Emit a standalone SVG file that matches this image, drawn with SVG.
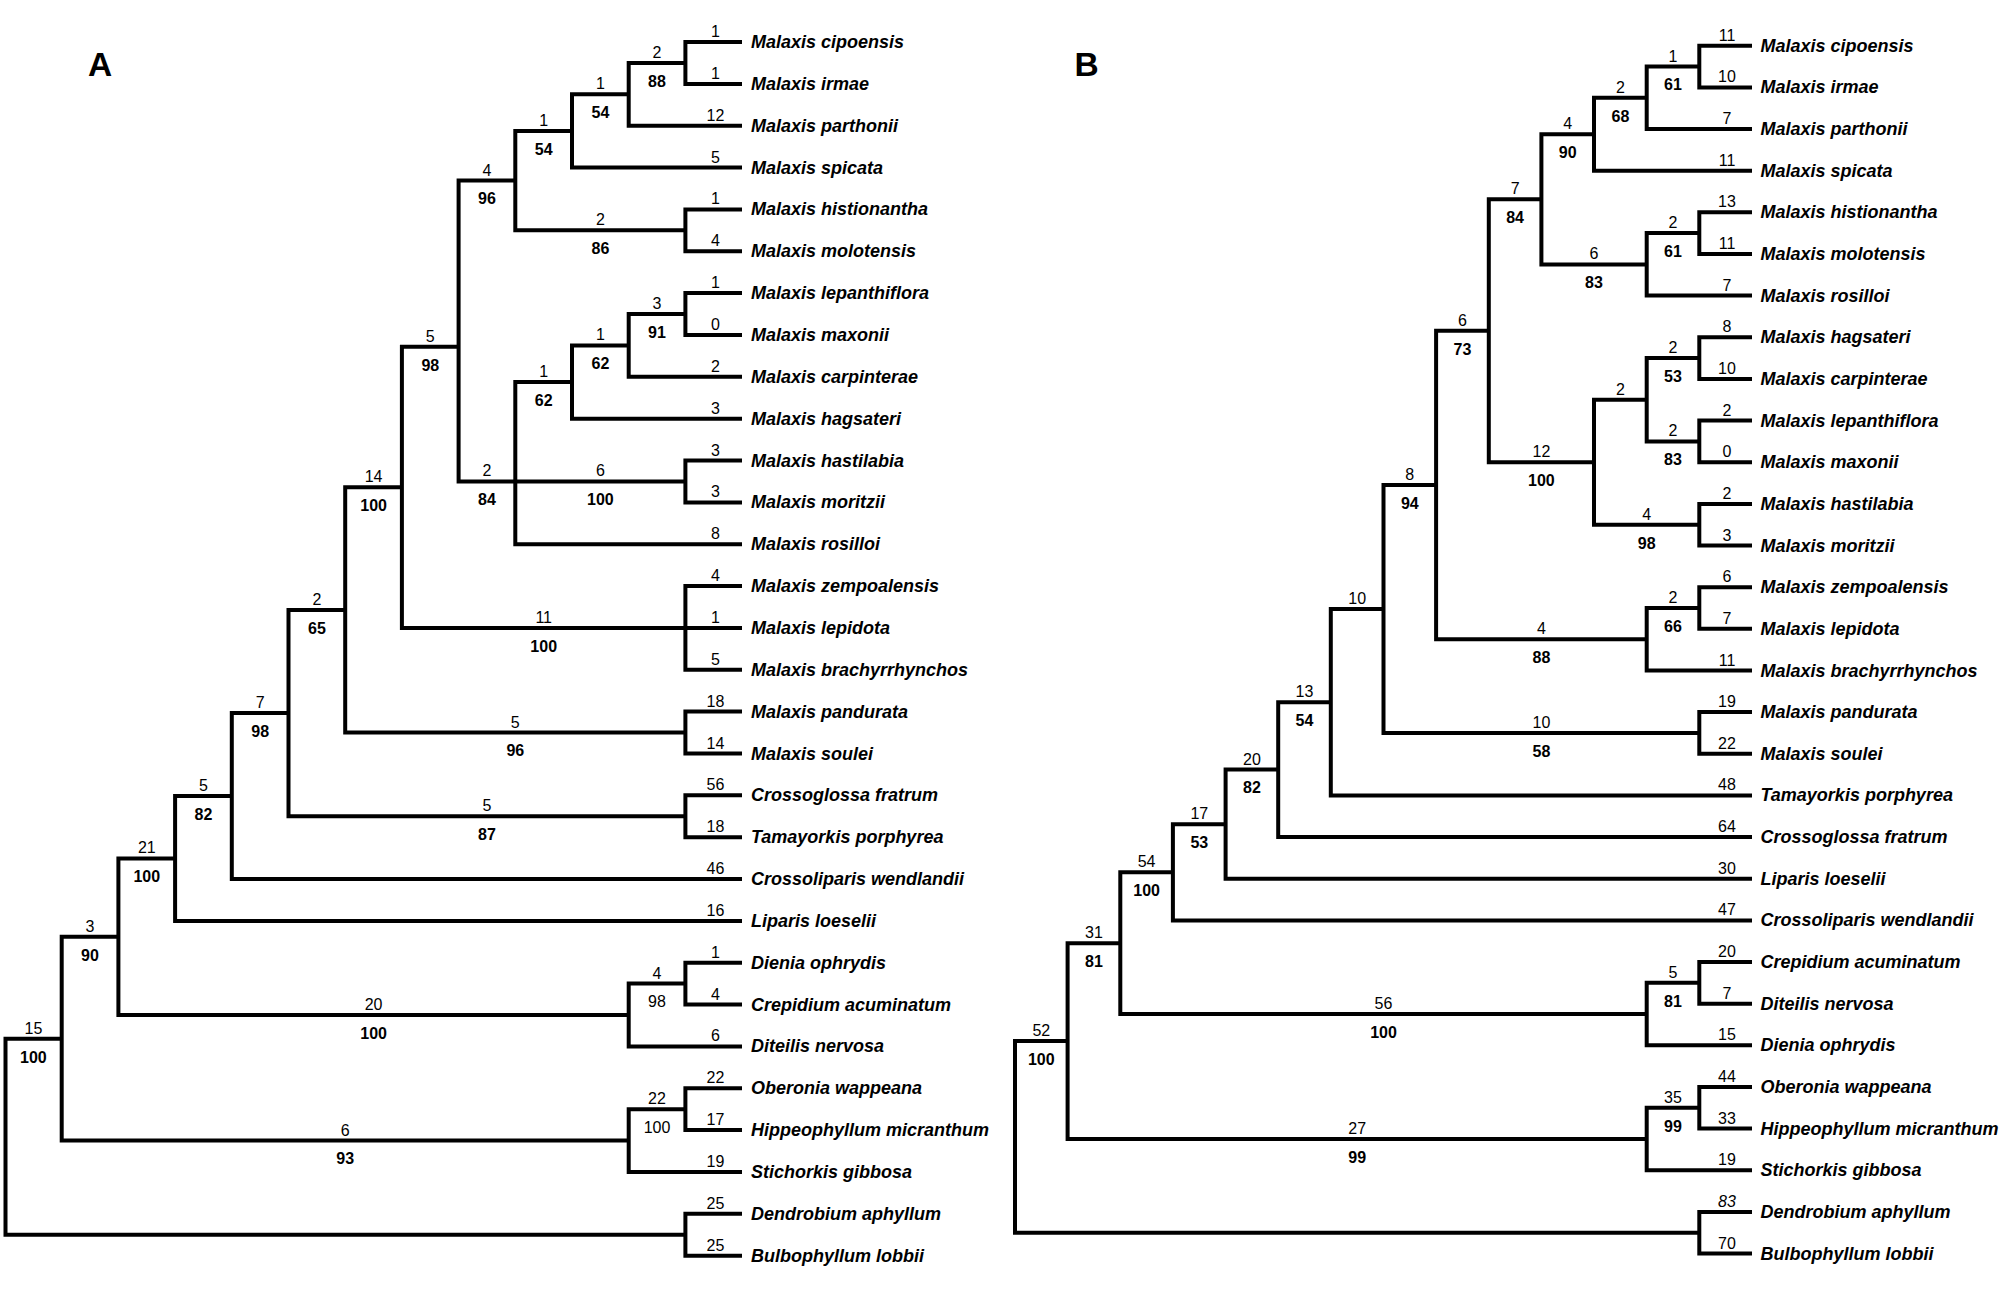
<svg xmlns="http://www.w3.org/2000/svg" width="2012" height="1290" viewBox="0 0 2012 1290">
<style>
.br{fill:none;stroke:#000;stroke-width:4;stroke-linejoin:miter;stroke-linecap:butt}
text{font-family:"Liberation Sans",Arial,sans-serif;fill:#000}
.tx{font-size:18px;font-weight:bold;font-style:italic}
.tn{font-size:16px;text-anchor:middle}
.st{font-size:16px;text-anchor:middle}
.bs{font-size:16px;font-weight:bold;text-anchor:middle}
.bn{font-size:16px;text-anchor:middle}
.pl{font-size:33.5px;font-weight:bold}
</style>
<rect width="2012" height="1290" fill="#fff"/>
<text class="pl" x="88" y="76">A</text>
<text class="pl" x="1074.5" y="76">B</text>
<g id="connectors">
<g id="branches-A">
<path class="br" d="M742 42 H685.4 V83.9 H742"/>
<path class="br" d="M685.4 62.9 H628.7 V125.7 H742"/>
<path class="br" d="M628.7 94.3 H572 V167.6 H742"/>
<path class="br" d="M742 209.4 H685.4 V251.3 H742"/>
<path class="br" d="M572 130.9 H515.3 V230.3 H685.4"/>
<path class="br" d="M742 293.1 H685.4 V335 H742"/>
<path class="br" d="M685.4 314 H628.7 V376.8 H742"/>
<path class="br" d="M628.7 345.4 H572 V418.7 H742"/>
<path class="br" d="M742 460.5 H685.4 V502.4 H742"/>
<path class="br" d="M572 382 H515.3 V544.2 H742 M515.3 481.4 H685.4"/>
<path class="br" d="M515.3 180.6 H458.6 V481.4 H515.3"/>
<path class="br" d="M742 586.1 H685.4 V669.8 H742 M685.4 627.9 H742"/>
<path class="br" d="M458.6 346.7 H401.9 V627.9 H685.4"/>
<path class="br" d="M742 711.6 H685.4 V753.5 H742"/>
<path class="br" d="M401.9 487.3 H345.2 V732.5 H685.4"/>
<path class="br" d="M742 795.3 H685.4 V837.2 H742"/>
<path class="br" d="M345.2 609.9 H288.5 V816.2 H685.4"/>
<path class="br" d="M288.5 713.1 H231.8 V879 H742"/>
<path class="br" d="M231.8 796 H175.1 V920.9 H742"/>
<path class="br" d="M742 962.7 H685.4 V1004.6 H742"/>
<path class="br" d="M685.4 983.6 H628.7 V1046.4 H742"/>
<path class="br" d="M175.1 858.4 H118.4 V1015 H628.7"/>
<path class="br" d="M742 1088.3 H685.4 V1130.1 H742"/>
<path class="br" d="M685.4 1109.2 H628.7 V1172 H742"/>
<path class="br" d="M118.4 936.7 H61.7 V1140.6 H628.7"/>
<path class="br" d="M742 1213.8 H685.4 V1255.7 H742"/>
<path class="br" d="M61.7 1038.7 H5.5 V1234.7 H685.4"/>
</g>
<g id="branches-B">
<path class="br" d="M1752 45.7 H1699.3 V87.4 H1752"/>
<path class="br" d="M1699.3 66.5 H1646.7 V129 H1752"/>
<path class="br" d="M1646.7 97.8 H1594 V170.7 H1752"/>
<path class="br" d="M1752 212.3 H1699.3 V254 H1752"/>
<path class="br" d="M1699.3 233.1 H1646.7 V295.6 H1752"/>
<path class="br" d="M1594 134.2 H1541.4 V264.4 H1646.7"/>
<path class="br" d="M1752 337.3 H1699.3 V378.9 H1752"/>
<path class="br" d="M1752 420.6 H1699.3 V462.2 H1752"/>
<path class="br" d="M1699.3 358.1 H1646.7 V441.4 H1699.3"/>
<path class="br" d="M1752 503.9 H1699.3 V545.5 H1752"/>
<path class="br" d="M1646.7 399.8 H1594 V524.7 H1699.3"/>
<path class="br" d="M1541.4 199.3 H1488.8 V462.2 H1594"/>
<path class="br" d="M1752 587.2 H1699.3 V628.8 H1752"/>
<path class="br" d="M1699.3 608 H1646.7 V670.5 H1752"/>
<path class="br" d="M1488.8 330.8 H1436.1 V639.2 H1646.7"/>
<path class="br" d="M1752 712.1 H1699.3 V753.8 H1752"/>
<path class="br" d="M1436.1 485 H1383.5 V732.9 H1699.3"/>
<path class="br" d="M1383.5 609 H1330.8 V795.4 H1752"/>
<path class="br" d="M1330.8 702.2 H1278.2 V837.1 H1752"/>
<path class="br" d="M1278.2 769.6 H1225.6 V878.7 H1752"/>
<path class="br" d="M1225.6 824.2 H1172.9 V920.4 H1752"/>
<path class="br" d="M1752 962 H1699.3 V1003.7 H1752"/>
<path class="br" d="M1699.3 982.8 H1646.7 V1045.3 H1752"/>
<path class="br" d="M1172.9 872.3 H1120.3 V1014.1 H1646.7"/>
<path class="br" d="M1752 1087 H1699.3 V1128.6 H1752"/>
<path class="br" d="M1699.3 1107.8 H1646.7 V1170.3 H1752"/>
<path class="br" d="M1120.3 943.2 H1067.6 V1139 H1646.7"/>
<path class="br" d="M1752 1211.9 H1699.3 V1253.6 H1752"/>
<path class="br" d="M1067.6 1041.1 H1015 V1232.7 H1699.3"/>
</g>
</g>
<g id="nodes-A">
<g id="A-n1"><text class="st" x="657" y="57.9">2</text><text class="bs" x="657" y="86.7">88</text></g>
<g id="A-n2"><text class="st" x="600.4" y="89.3">1</text><text class="bs" x="600.4" y="118.1">54</text></g>
<g id="A-n3"><text class="st" x="543.7" y="125.9">1</text><text class="bs" x="543.7" y="154.7">54</text></g>
<g id="A-n4"><text class="st" x="600.4" y="225.3">2</text><text class="bs" x="600.4" y="254.1">86</text></g>
<g id="A-n5"><text class="st" x="487" y="175.6">4</text><text class="bs" x="487" y="204.4">96</text></g>
<g id="A-n6"><text class="st" x="657" y="309">3</text><text class="bs" x="657" y="337.8">91</text></g>
<g id="A-n7"><text class="st" x="600.4" y="340.4">1</text><text class="bs" x="600.4" y="369.2">62</text></g>
<g id="A-n8"><text class="st" x="543.7" y="377">1</text><text class="bs" x="543.7" y="405.8">62</text></g>
<g id="A-n9"><text class="st" x="600.4" y="476.4">6</text><text class="bs" x="600.4" y="505.2">100</text></g>
<g id="A-n10"><text class="st" x="487" y="476.4">2</text><text class="bs" x="487" y="505.2">84</text></g>
<g id="A-n11"><text class="st" x="430.3" y="341.7">5</text><text class="bs" x="430.3" y="370.5">98</text></g>
<g id="A-n12"><text class="st" x="543.7" y="622.9">11</text><text class="bs" x="543.7" y="651.7">100</text></g>
<g id="A-n13"><text class="st" x="373.6" y="482.3">14</text><text class="bs" x="373.6" y="511.1">100</text></g>
<g id="A-n14"><text class="st" x="515.3" y="727.5">5</text><text class="bs" x="515.3" y="756.3">96</text></g>
<g id="A-n15"><text class="st" x="316.9" y="604.9">2</text><text class="bs" x="316.9" y="633.7">65</text></g>
<g id="A-n16"><text class="st" x="487" y="811.2">5</text><text class="bs" x="487" y="840">87</text></g>
<g id="A-n17"><text class="st" x="260.2" y="708.1">7</text><text class="bs" x="260.2" y="736.9">98</text></g>
<g id="A-n18"><text class="st" x="203.5" y="791">5</text><text class="bs" x="203.5" y="819.8">82</text></g>
<g id="A-n19"><text class="st" x="146.8" y="853.4">21</text><text class="bs" x="146.8" y="882.2">100</text></g>
<g id="A-n20"><text class="st" x="657" y="978.6">4</text><text class="bn" x="657" y="1007.4">98</text></g>
<g id="A-n21"><text class="st" x="373.6" y="1010">20</text><text class="bs" x="373.6" y="1038.8">100</text></g>
<g id="A-n22"><text class="st" x="90" y="931.7">3</text><text class="bs" x="90" y="960.5">90</text></g>
<g id="A-n23"><text class="st" x="657" y="1104.2">22</text><text class="bn" x="657" y="1133">100</text></g>
<g id="A-n24"><text class="st" x="345.2" y="1135.6">6</text><text class="bs" x="345.2" y="1164.4">93</text></g>
<g id="A-n25"><text class="st" x="33.4" y="1033.7">15</text><text class="bs" x="33.4" y="1062.5">100</text></g>
</g>
<g id="taxa-A">
<g id="A-cipoensis"><text class="tn" x="715.5" y="37">1</text><text class="tx" x="751" y="48">Malaxis cipoensis</text></g>
<g id="A-irmae"><text class="tn" x="715.5" y="78.9">1</text><text class="tx" x="751" y="89.9">Malaxis irmae</text></g>
<g id="A-parthonii"><text class="tn" x="715.5" y="120.7">12</text><text class="tx" x="751" y="131.7">Malaxis parthonii</text></g>
<g id="A-spicata"><text class="tn" x="715.5" y="162.6">5</text><text class="tx" x="751" y="173.6">Malaxis spicata</text></g>
<g id="A-histionantha"><text class="tn" x="715.5" y="204.4">1</text><text class="tx" x="751" y="215.4">Malaxis histionantha</text></g>
<g id="A-molotensis"><text class="tn" x="715.5" y="246.3">4</text><text class="tx" x="751" y="257.3">Malaxis molotensis</text></g>
<g id="A-lepanthiflora"><text class="tn" x="715.5" y="288.1">1</text><text class="tx" x="751" y="299.1">Malaxis lepanthiflora</text></g>
<g id="A-maxonii"><text class="tn" x="715.5" y="330">0</text><text class="tx" x="751" y="341">Malaxis maxonii</text></g>
<g id="A-carpinterae"><text class="tn" x="715.5" y="371.8">2</text><text class="tx" x="751" y="382.8">Malaxis carpinterae</text></g>
<g id="A-hagsateri"><text class="tn" x="715.5" y="413.7">3</text><text class="tx" x="751" y="424.7">Malaxis hagsateri</text></g>
<g id="A-hastilabia"><text class="tn" x="715.5" y="455.5">3</text><text class="tx" x="751" y="466.5">Malaxis hastilabia</text></g>
<g id="A-moritzii"><text class="tn" x="715.5" y="497.4">3</text><text class="tx" x="751" y="508.4">Malaxis moritzii</text></g>
<g id="A-rosilloi"><text class="tn" x="715.5" y="539.2">8</text><text class="tx" x="751" y="550.2">Malaxis rosilloi</text></g>
<g id="A-zempoalensis"><text class="tn" x="715.5" y="581.1">4</text><text class="tx" x="751" y="592.1">Malaxis zempoalensis</text></g>
<g id="A-lepidota"><text class="tn" x="715.5" y="622.9">1</text><text class="tx" x="751" y="633.9">Malaxis lepidota</text></g>
<g id="A-brachyrrhynchos"><text class="tn" x="715.5" y="664.8">5</text><text class="tx" x="751" y="675.8">Malaxis brachyrrhynchos</text></g>
<g id="A-pandurata"><text class="tn" x="715.5" y="706.6">18</text><text class="tx" x="751" y="717.6">Malaxis pandurata</text></g>
<g id="A-soulei"><text class="tn" x="715.5" y="748.5">14</text><text class="tx" x="751" y="759.5">Malaxis soulei</text></g>
<g id="A-crossoglossa"><text class="tn" x="715.5" y="790.3">56</text><text class="tx" x="751" y="801.3">Crossoglossa fratrum</text></g>
<g id="A-tamayorkis"><text class="tn" x="715.5" y="832.2">18</text><text class="tx" x="751" y="843.2">Tamayorkis porphyrea</text></g>
<g id="A-crossoliparis"><text class="tn" x="715.5" y="874">46</text><text class="tx" x="751" y="885">Crossoliparis wendlandii</text></g>
<g id="A-liparis"><text class="tn" x="715.5" y="915.9">16</text><text class="tx" x="751" y="926.9">Liparis loeselii</text></g>
<g id="A-dienia"><text class="tn" x="715.5" y="957.7">1</text><text class="tx" x="751" y="968.7">Dienia ophrydis</text></g>
<g id="A-crepidium"><text class="tn" x="715.5" y="999.6">4</text><text class="tx" x="751" y="1010.6">Crepidium acuminatum</text></g>
<g id="A-diteilis"><text class="tn" x="715.5" y="1041.4">6</text><text class="tx" x="751" y="1052.4">Diteilis nervosa</text></g>
<g id="A-oberonia"><text class="tn" x="715.5" y="1083.3">22</text><text class="tx" x="751" y="1094.3">Oberonia wappeana</text></g>
<g id="A-hippeophyllum"><text class="tn" x="715.5" y="1125.1">17</text><text class="tx" x="751" y="1136.1">Hippeophyllum micranthum</text></g>
<g id="A-stichorkis"><text class="tn" x="715.5" y="1167">19</text><text class="tx" x="751" y="1178">Stichorkis gibbosa</text></g>
<g id="A-dendrobium"><text class="tn" x="715.5" y="1208.8">25</text><text class="tx" x="751" y="1219.8">Dendrobium aphyllum</text></g>
<g id="A-bulbophyllum"><text class="tn" x="715.5" y="1250.7">25</text><text class="tx" x="751" y="1261.7">Bulbophyllum lobbii</text></g>
</g>
<g id="nodes-B">
<g id="B-n1"><text class="st" x="1673" y="61.5">1</text><text class="bs" x="1673" y="90.3">61</text></g>
<g id="B-n2"><text class="st" x="1620.4" y="92.8">2</text><text class="bs" x="1620.4" y="121.6">68</text></g>
<g id="B-n3"><text class="st" x="1567.7" y="129.2">4</text><text class="bs" x="1567.7" y="158">90</text></g>
<g id="B-n4"><text class="st" x="1673" y="228.1">2</text><text class="bs" x="1673" y="256.9">61</text></g>
<g id="B-n5"><text class="st" x="1594" y="259.4">6</text><text class="bs" x="1594" y="288.2">83</text></g>
<g id="B-n6"><text class="st" x="1515.1" y="194.3">7</text><text class="bs" x="1515.1" y="223.1">84</text></g>
<g id="B-n7"><text class="st" x="1673" y="353.1">2</text><text class="bs" x="1673" y="381.9">53</text></g>
<g id="B-n8"><text class="st" x="1673" y="436.4">2</text><text class="bs" x="1673" y="465.2">83</text></g>
<g id="B-n9"><text class="st" x="1620.4" y="394.8">2</text></g>
<g id="B-n10"><text class="st" x="1646.7" y="519.7">4</text><text class="bs" x="1646.7" y="548.5">98</text></g>
<g id="B-n11"><text class="st" x="1541.4" y="457.2">12</text><text class="bs" x="1541.4" y="486">100</text></g>
<g id="B-n12"><text class="st" x="1462.5" y="325.8">6</text><text class="bs" x="1462.5" y="354.6">73</text></g>
<g id="B-n13"><text class="st" x="1673" y="603">2</text><text class="bs" x="1673" y="631.8">66</text></g>
<g id="B-n14"><text class="st" x="1541.4" y="634.2">4</text><text class="bs" x="1541.4" y="663">88</text></g>
<g id="B-n15"><text class="st" x="1409.8" y="480">8</text><text class="bs" x="1409.8" y="508.8">94</text></g>
<g id="B-n16"><text class="st" x="1541.4" y="727.9">10</text><text class="bs" x="1541.4" y="756.7">58</text></g>
<g id="B-n17"><text class="st" x="1357.2" y="604">10</text></g>
<g id="B-n18"><text class="st" x="1304.5" y="697.2">13</text><text class="bs" x="1304.5" y="726">54</text></g>
<g id="B-n19"><text class="st" x="1251.9" y="764.6">20</text><text class="bs" x="1251.9" y="793.4">82</text></g>
<g id="B-n20"><text class="st" x="1199.3" y="819.2">17</text><text class="bs" x="1199.3" y="848">53</text></g>
<g id="B-n21"><text class="st" x="1146.6" y="867.3">54</text><text class="bs" x="1146.6" y="896.1">100</text></g>
<g id="B-n22"><text class="st" x="1673" y="977.8">5</text><text class="bs" x="1673" y="1006.6">81</text></g>
<g id="B-n23"><text class="st" x="1383.5" y="1009.1">56</text><text class="bs" x="1383.5" y="1037.9">100</text></g>
<g id="B-n24"><text class="st" x="1094" y="938.2">31</text><text class="bs" x="1094" y="967">81</text></g>
<g id="B-n25"><text class="st" x="1673" y="1102.8">35</text><text class="bs" x="1673" y="1131.6">99</text></g>
<g id="B-n26"><text class="st" x="1357.2" y="1134">27</text><text class="bs" x="1357.2" y="1162.8">99</text></g>
<g id="B-n27"><text class="st" x="1041.3" y="1036.1">52</text><text class="bs" x="1041.3" y="1064.9">100</text></g>
</g>
<g id="taxa-B">
<g id="B-cipoensis"><text class="tn" x="1727" y="40.7">11</text><text class="tx" x="1760.5" y="51.7">Malaxis cipoensis</text></g>
<g id="B-irmae"><text class="tn" x="1727" y="82.4">10</text><text class="tx" x="1760.5" y="93.4">Malaxis irmae</text></g>
<g id="B-parthonii"><text class="tn" x="1727" y="124">7</text><text class="tx" x="1760.5" y="135">Malaxis parthonii</text></g>
<g id="B-spicata"><text class="tn" x="1727" y="165.7">11</text><text class="tx" x="1760.5" y="176.7">Malaxis spicata</text></g>
<g id="B-histionantha"><text class="tn" x="1727" y="207.3">13</text><text class="tx" x="1760.5" y="218.3">Malaxis histionantha</text></g>
<g id="B-molotensis"><text class="tn" x="1727" y="249">11</text><text class="tx" x="1760.5" y="260">Malaxis molotensis</text></g>
<g id="B-rosilloi"><text class="tn" x="1727" y="290.6">7</text><text class="tx" x="1760.5" y="301.6">Malaxis rosilloi</text></g>
<g id="B-hagsateri"><text class="tn" x="1727" y="332.3">8</text><text class="tx" x="1760.5" y="343.3">Malaxis hagsateri</text></g>
<g id="B-carpinterae"><text class="tn" x="1727" y="373.9">10</text><text class="tx" x="1760.5" y="384.9">Malaxis carpinterae</text></g>
<g id="B-lepanthiflora"><text class="tn" x="1727" y="415.6">2</text><text class="tx" x="1760.5" y="426.6">Malaxis lepanthiflora</text></g>
<g id="B-maxonii"><text class="tn" x="1727" y="457.2">0</text><text class="tx" x="1760.5" y="468.2">Malaxis maxonii</text></g>
<g id="B-hastilabia"><text class="tn" x="1727" y="498.9">2</text><text class="tx" x="1760.5" y="509.9">Malaxis hastilabia</text></g>
<g id="B-moritzii"><text class="tn" x="1727" y="540.5">3</text><text class="tx" x="1760.5" y="551.5">Malaxis moritzii</text></g>
<g id="B-zempoalensis"><text class="tn" x="1727" y="582.2">6</text><text class="tx" x="1760.5" y="593.2">Malaxis zempoalensis</text></g>
<g id="B-lepidota"><text class="tn" x="1727" y="623.8">7</text><text class="tx" x="1760.5" y="634.8">Malaxis lepidota</text></g>
<g id="B-brachyrrhynchos"><text class="tn" x="1727" y="665.5">11</text><text class="tx" x="1760.5" y="676.5">Malaxis brachyrrhynchos</text></g>
<g id="B-pandurata"><text class="tn" x="1727" y="707.1">19</text><text class="tx" x="1760.5" y="718.1">Malaxis pandurata</text></g>
<g id="B-soulei"><text class="tn" x="1727" y="748.8">22</text><text class="tx" x="1760.5" y="759.8">Malaxis soulei</text></g>
<g id="B-tamayorkis"><text class="tn" x="1727" y="790.4">48</text><text class="tx" x="1760.5" y="801.4">Tamayorkis porphyrea</text></g>
<g id="B-crossoglossa"><text class="tn" x="1727" y="832.1">64</text><text class="tx" x="1760.5" y="843.1">Crossoglossa fratrum</text></g>
<g id="B-liparis"><text class="tn" x="1727" y="873.7">30</text><text class="tx" x="1760.5" y="884.7">Liparis loeselii</text></g>
<g id="B-crossoliparis"><text class="tn" x="1727" y="915.4">47</text><text class="tx" x="1760.5" y="926.4">Crossoliparis wendlandii</text></g>
<g id="B-crepidium"><text class="tn" x="1727" y="957">20</text><text class="tx" x="1760.5" y="968">Crepidium acuminatum</text></g>
<g id="B-diteilis"><text class="tn" x="1727" y="998.7">7</text><text class="tx" x="1760.5" y="1009.7">Diteilis nervosa</text></g>
<g id="B-dienia"><text class="tn" x="1727" y="1040.3">15</text><text class="tx" x="1760.5" y="1051.3">Dienia ophrydis</text></g>
<g id="B-oberonia"><text class="tn" x="1727" y="1082">44</text><text class="tx" x="1760.5" y="1093">Oberonia wappeana</text></g>
<g id="B-hippeophyllum"><text class="tn" x="1727" y="1123.6">33</text><text class="tx" x="1760.5" y="1134.6">Hippeophyllum micranthum</text></g>
<g id="B-stichorkis"><text class="tn" x="1727" y="1165.3">19</text><text class="tx" x="1760.5" y="1176.3">Stichorkis gibbosa</text></g>
<g id="B-dendrobium"><text class="tn" x="1727" y="1206.9" font-style="italic">83</text><text class="tx" x="1760.5" y="1217.9">Dendrobium aphyllum</text></g>
<g id="B-bulbophyllum"><text class="tn" x="1727" y="1248.6">70</text><text class="tx" x="1760.5" y="1259.6">Bulbophyllum lobbii</text></g>
</g>
</svg>
